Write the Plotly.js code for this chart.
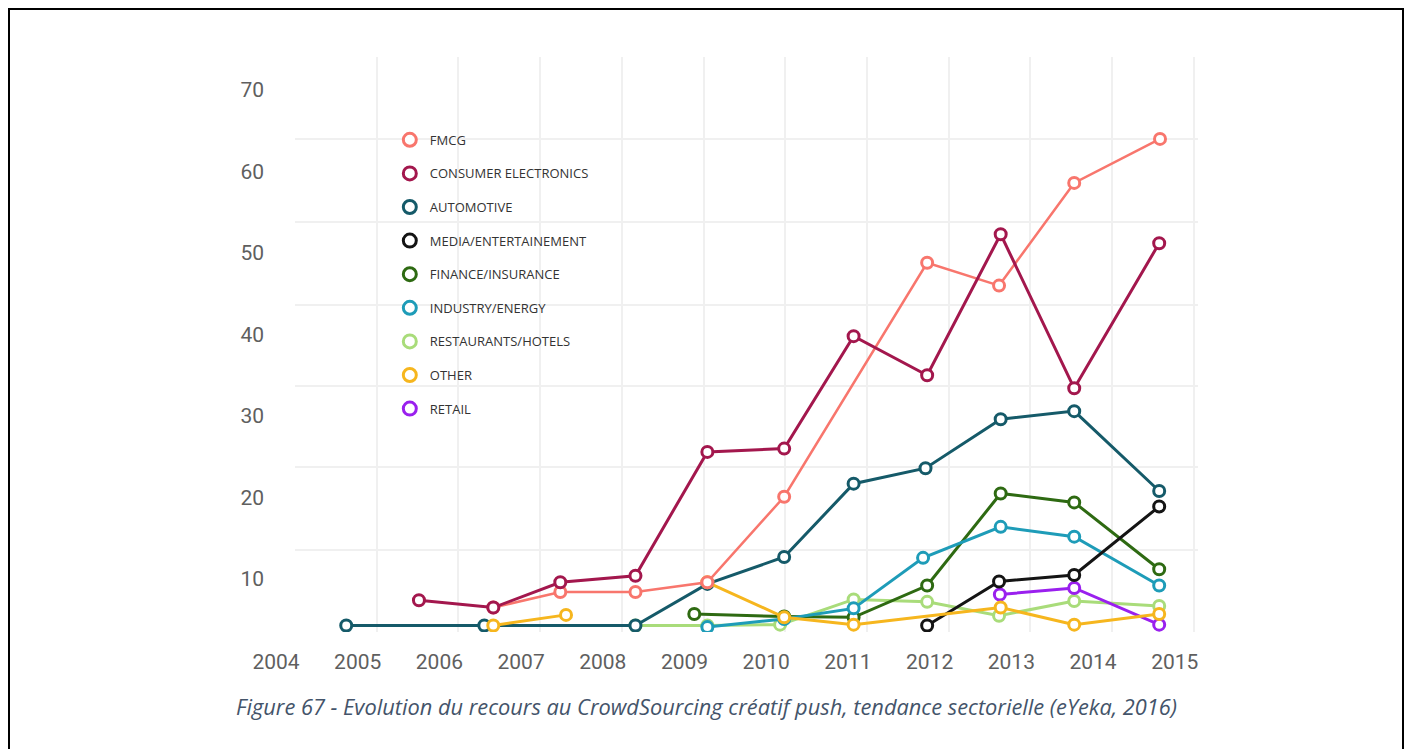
<!DOCTYPE html>
<html>
<head>
<meta charset="utf-8">
<script src="https://cdn.plot.ly/plotly-3.0.1.min.js"></script>
<style>
  html, body { margin: 0; padding: 0; background: #fff; }
  #wrap { position: relative; width: 1407px; height: 749px; overflow: hidden; }
  #frame { position: absolute; left: 8px; top: 8px; width: 1396px; height: 800px; border: 2px solid #000; box-sizing: border-box; pointer-events: none; z-index: 5; }
  #chart { position: absolute; left: 0; top: 0; width: 1407px; height: 749px; }
</style>
</head>
<body>
<div id="wrap">
  <div id="chart"></div>
  <div id="frame"></div>
</div>
<script>
// ---- Data (x in year units, y in chart units) ----
const YEARS = [2004, 2005, 2006, 2007, 2008, 2009, 2010, 2011, 2012, 2013, 2014, 2015];
const Y_TICKS = [10, 20, 30, 40, 50, 60, 70];
const X_GRID = [2004.233, 2005.233, 2006.233, 2007.233, 2008.233, 2009.233, 2010.233, 2011.233, 2012.233, 2013.233, 2014.233, 2015.233];
const Y_GRID = [3.5, 13.56, 23.74, 33.68, 43.62, 53.8, 63.99, 74.05];

const SERIES_NAMES = ["FMCG", "CONSUMER ELECTRONICS", "AUTOMOTIVE", "MEDIA/ENTERTAINEMENT",
  "FINANCE/INSURANCE", "INDUSTRY/ENERGY", "RESTAURANTS/HOTELS", "OTHER", "RETAIL"];

const FMCG_X = [2006.66, 2007.48, 2008.40, 2009.28, 2010.22, 2011.97, 2012.85, 2013.77, 2014.82];
const FMCG_Y = [6.5, 8.4, 8.4, 9.6, 20.1, 48.8, 46.0, 58.6, 64.0];

const CE_X = [2005.75, 2006.66, 2007.48, 2008.40, 2009.28, 2010.22, 2011.07, 2011.97, 2012.87, 2013.77, 2014.81];
const CE_Y = [7.4, 6.5, 9.6, 10.4, 25.6, 26.0, 39.8, 35.0, 52.3, 33.4, 51.2];

const AUTO_X = [2004.86, 2006.55, 2008.40, 2009.28, 2010.22, 2011.07, 2011.95, 2012.87, 2013.77, 2014.81];
const AUTO_Y = [4.3, 4.3, 4.3, 9.4, 12.7, 21.7, 23.6, 29.6, 30.6, 20.8];

const MEDIA_X = [2011.97, 2012.85, 2013.77, 2014.81];
const MEDIA_Y = [4.3, 9.7, 10.5, 18.9];

const FIN_X = [2009.12, 2010.22, 2011.07, 2011.97, 2012.87, 2013.77, 2014.81];
const FIN_Y = [5.7, 5.4, 5.3, 9.2, 20.5, 19.4, 11.2];

const IND_X = [2009.28, 2010.22, 2011.07, 2011.92, 2012.87, 2013.77, 2014.81];
const IND_Y = [4.1, 5.1, 6.4, 12.6, 16.4, 15.2, 9.2];

const REST_X = [2008.40, 2009.28, 2010.17, 2011.07, 2011.97, 2012.85, 2013.77, 2014.81];
const REST_Y = [4.3, 4.3, 4.4, 7.5, 7.2, 5.5, 7.3, 6.7];

const OTHER_X = [2006.66, 2007.55, 2008.40, 2009.28, 2010.22, 2011.07, 2012.87, 2013.77, 2014.81];
const OTHER_Y = [4.3, 5.6, null, 9.6, 5.3, 4.4, 6.5, 4.4, 5.7];

const RETAIL_X = [2012.86, 2013.77, 2014.81];
const RETAIL_Y = [8.1, 8.9, 4.4];

const CAPTION = "Figure 67 - Evolution du recours au CrowdSourcing créatif push, tendance sectorielle (eYeka, 2016)";

// ---- Styles ----
const COLORS = {
  "FMCG": "#f8766d",
  "CONSUMER ELECTRONICS": "#a3174d",
  "AUTOMOTIVE": "#155a69",
  "MEDIA/ENTERTAINEMENT": "#141414",
  "FINANCE/INSURANCE": "#2e6a12",
  "INDUSTRY/ENERGY": "#1e9cb8",
  "RESTAURANTS/HOTELS": "#a9dc7a",
  "OTHER": "#f6b61e",
  "RETAIL": "#9a20ee"
};
const WIDTHS = {"FMCG": 2.5};

const DATA = {
  "FMCG": [FMCG_X, FMCG_Y],
  "CONSUMER ELECTRONICS": [CE_X, CE_Y],
  "AUTOMOTIVE": [AUTO_X, AUTO_Y],
  "MEDIA/ENTERTAINEMENT": [MEDIA_X, MEDIA_Y],
  "FINANCE/INSURANCE": [FIN_X, FIN_Y],
  "INDUSTRY/ENERGY": [IND_X, IND_Y],
  "RESTAURANTS/HOTELS": [REST_X, REST_Y],
  "OTHER": [OTHER_X, OTHER_Y],
  "RETAIL": [RETAIL_X, RETAIL_Y]
};

// drawing order (bottom to top)
const DRAW_ORDER = ["RESTAURANTS/HOTELS", "FINANCE/INSURANCE", "INDUSTRY/ENERGY", "RETAIL",
  "MEDIA/ENTERTAINEMENT", "AUTOMOTIVE", "OTHER", "FMCG", "CONSUMER ELECTRONICS"];

const traces = [];
// legend-only entries (markers only), in legend order
SERIES_NAMES.forEach(name => {
  traces.push({
    type: "scatter", mode: "markers", name: name, x: [null], y: [null],
    legendgroup: name, showlegend: true, hoverinfo: "skip",
    marker: {symbol: "circle", size: 13, color: "#ffffff", line: {color: COLORS[name], width: 3}}
  });
});
// data traces
DRAW_ORDER.forEach(name => {
  traces.push({
    type: "scatter", mode: "lines+markers", name: name,
    x: DATA[name][0], y: DATA[name][1], connectgaps: false,
    legendgroup: name, showlegend: false,
    line: {color: COLORS[name], width: WIDTHS[name] || 3},
    marker: {symbol: "circle", size: 11, color: "#ffffff", line: {color: COLORS[name], width: 3}}
  });
});
// invisible trace to anchor the grid axis
traces.push({type: "scatter", mode: "markers", x: [null], y: [null], yaxis: "y2", showlegend: false, hoverinfo: "skip"});

const layout = {
  width: 1407, height: 749,
  paper_bgcolor: "#ffffff", plot_bgcolor: "#ffffff",
  margin: {l: 295, r: 209, t: 57, b: 117},
  showlegend: true,
  legend: {
    x: 0.105, y: 0.882, xanchor: "left", yanchor: "top",
    bgcolor: "rgba(0,0,0,0)", borderwidth: 0,
    font: {family: "Open Sans, sans-serif", size: 13, color: "#333333"},
    traceorder: "grouped", tracegroupgap: 13.7, itemclick: false
  },
  xaxis: {
    range: [2004.233, 2015.285],
    tickmode: "array", tickvals: X_GRID, ticktext: YEARS.map(String),
    ticklabelshift: -19, ticklabelstandoff: 15,
    showgrid: true, gridcolor: "#f0f0f0", gridwidth: 2,
    zeroline: false, showline: false, ticks: "",
    tickfont: {family: "Roboto, sans-serif", size: 21, color: "#5f5f5f"}
  },
  yaxis: {
    range: [3.5, 74.05],
    tickmode: "array", tickvals: Y_TICKS, ticktext: Y_TICKS.map(String),
    showgrid: false, zeroline: false, showline: false, ticks: "",
    ticklabelstandoff: 30,
    tickfont: {family: "Roboto, sans-serif", size: 21, color: "#5f5f5f"}
  },
  yaxis2: {
    overlaying: "y", side: "left", range: [3.5, 74.05],
    tickmode: "array", tickvals: Y_GRID, showticklabels: false,
    showgrid: true, gridcolor: "#f0f0f0", gridwidth: 2,
    zeroline: false, showline: false, ticks: ""
  },
  annotations: [{
    text: "<i>" + CAPTION + "</i>",
    xref: "paper", yref: "paper", x: 0.5, y: -0.13, xanchor: "center", yanchor: "middle",
    xshift: 706 - (295 + 903 / 2),
    showarrow: false,
    font: {family: "Open Sans, sans-serif", size: 21.8, color: "#44546a"}
  }]
};

Plotly.newPlot("chart", traces, layout, {displayModeBar: false, staticPlot: true});
</script>
</body>
</html>
